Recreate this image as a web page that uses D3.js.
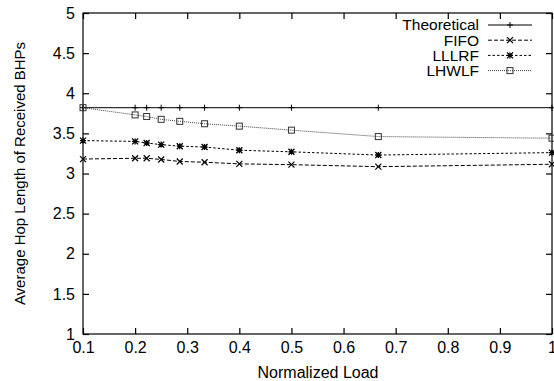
<!DOCTYPE html>
<html>
<head>
<meta charset="utf-8">
<script src="https://cdn.jsdelivr.net/npm/d3@7"></script>
<style>
  body { margin: 0; background: #fff; }
  svg { display: block; font-family: "Liberation Sans", Arial, sans-serif; }
</style>
</head>
<body>
<div id="chart"></div>
<script>
// normalized load values (x)
const loads = [0.1, 0.2, 0.2222, 0.25, 0.2857, 0.3333, 0.4, 0.5, 0.6667, 1.0];

const theoretical = [3.82, 3.82, 3.82, 3.82, 3.82, 3.82, 3.82, 3.82, 3.82, 3.82];
const fifo  = [3.18, 3.19, 3.19, 3.175, 3.15, 3.14, 3.12, 3.11, 3.085, 3.115];
const lllrf = [3.41, 3.40, 3.38, 3.36, 3.34, 3.33, 3.29, 3.27, 3.23, 3.26];
const lhwlf = [3.82, 3.73, 3.71, 3.675, 3.65, 3.62, 3.59, 3.54, 3.46, 3.44];

const xTicks = [0.1, 0.2, 0.3, 0.4, 0.5, 0.6, 0.7, 0.8, 0.9, 1];
const yTicks = [1, 1.5, 2, 2.5, 3, 3.5, 4, 4.5, 5];

const series = [
    { name: 'Theoretical', values: theoretical, dash: null, marker: 'plus' },
    { name: 'FIFO', values: fifo, dash: '4,2', marker: 'cross' },
    { name: 'LLLRF', values: lllrf, dash: '2.5,2', marker: 'star' },
    { name: 'LHWLF', values: lhwlf, dash: '1,1', marker: 'square' }
];

const width = 554, height = 381;
const margin = { top: 13, right: 2, bottom: 47, left: 83 };

const svg = d3.select('#chart').append('svg')
    .attr('width', width)
    .attr('height', height);

const x = d3.scaleLinear().domain([0.1, 1]).range([margin.left, width - margin.right]);
const y = d3.scaleLinear().domain([1, 5]).range([height - margin.bottom, margin.top]);

const x0 = margin.left, x1 = width - margin.right;
const y0 = height - margin.bottom, y1 = margin.top;

// frame
svg.append('rect')
    .attr('x', x0).attr('y', y1)
    .attr('width', x1 - x0).attr('height', y0 - y1)
    .attr('fill', 'none').attr('stroke', '#000').attr('stroke-width', 1.2);

// axes, ticks pointing inward (mirrored on top/right)
const tickLen = 6;
const fontSize = 16;
const fontFam = '"Liberation Sans", Arial, sans-serif';

svg.append('g')
    .attr('transform', `translate(0,${y0})`)
    .call(d3.axisBottom(x).tickValues(xTicks).tickSizeInner(-tickLen).tickSizeOuter(0).tickPadding(8).tickFormat(d3.format('')))
    .call(g => g.select('.domain').remove())
    .call(g => g.selectAll('text').attr('font-size', fontSize).attr('font-family', fontFam).attr('fill', '#000'));

svg.append('g')
    .attr('transform', `translate(0,${y1})`)
    .call(d3.axisTop(x).tickValues(xTicks).tickSizeInner(-tickLen).tickSizeOuter(0).tickFormat(''))
    .call(g => g.select('.domain').remove());

svg.append('g')
    .attr('transform', `translate(${x0},0)`)
    .call(d3.axisLeft(y).tickValues(yTicks).tickSizeInner(-tickLen).tickSizeOuter(0).tickPadding(8).tickFormat(d3.format('')))
    .call(g => g.select('.domain').remove())
    .call(g => g.selectAll('text').attr('font-size', fontSize).attr('font-family', fontFam).attr('fill', '#000'));

svg.append('g')
    .attr('transform', `translate(${x1},0)`)
    .call(d3.axisRight(y).tickValues(yTicks).tickSizeInner(-tickLen).tickSizeOuter(0).tickFormat(''))
    .call(g => g.select('.domain').remove());

svg.selectAll('.tick line').attr('stroke', '#000').attr('stroke-width', 1.2);

// axis titles
svg.append('text')
    .attr('x', 318).attr('y', 378)
    .attr('text-anchor', 'middle')
    .attr('font-size', 16)
    .text('Normalized Load');

svg.append('text')
    .attr('transform', `translate(25,${(y0 + y1) / 2}) rotate(-90)`)
    .attr('text-anchor', 'middle')
    .attr('font-size', 15)
    .text('Average Hop Length of Received BHPs');

function drawMarker(g, type, cx, cy) {
    const s = 3;
    if (type === 'plus') {
        g.append('path').attr('d', `M${cx - s},${cy}H${cx + s}M${cx},${cy - s}V${cy + s}`)
            .attr('stroke', '#000').attr('stroke-width', 1).attr('fill', 'none');
    } else if (type === 'cross') {
        g.append('path').attr('d', `M${cx - s},${cy - s}L${cx + s},${cy + s}M${cx - s},${cy + s}L${cx + s},${cy - s}`)
            .attr('stroke', '#000').attr('stroke-width', 1.2).attr('fill', 'none');
    } else if (type === 'star') {
        g.append('path').attr('d', `M${cx - s},${cy - s}L${cx + s},${cy + s}M${cx - s},${cy + s}L${cx + s},${cy - s}M${cx - s},${cy}H${cx + s}M${cx},${cy - s}V${cy + s}`)
            .attr('stroke', '#000').attr('stroke-width', 1.3).attr('fill', 'none');
    } else if (type === 'square') {
        g.append('rect').attr('x', cx - s).attr('y', cy - s).attr('width', 2 * s).attr('height', 2 * s)
            .attr('stroke', '#333').attr('stroke-width', 1).attr('fill', 'none');
    }
}

const line = d3.line().x(d => x(d[0])).y(d => y(d[1]));

series.forEach(s => {
    const pts = loads.map((l, i) => [l, s.values[i]]);
    const g = svg.append('g');
    g.append('path')
        .datum(pts)
        .attr('d', line)
        .attr('fill', 'none')
        .attr('stroke', s.dash === '1,1' ? '#444' : '#000')
        .attr('stroke-width', 1)
        .attr('stroke-dasharray', s.dash);
    pts.forEach(p => drawMarker(g, s.marker, x(p[0]), y(p[1])));
});

// legend
const legend = svg.append('g');
series.forEach((s, i) => {
    const ly = 25 + i * 15.2;
    legend.append('text')
        .attr('x', 479).attr('y', ly)
        .attr('dy', '0.35em')
        .attr('text-anchor', 'end')
        .attr('font-size', 15.5)
        .text(s.name);
    legend.append('line')
        .attr('x1', 488).attr('x2', 532)
        .attr('y1', ly).attr('y2', ly)
        .attr('stroke', s.dash === '1,1' ? '#444' : '#000')
        .attr('stroke-width', 1)
        .attr('stroke-dasharray', s.dash);
    drawMarker(legend, s.marker, 510, ly);
});
</script>
</body>
</html>
